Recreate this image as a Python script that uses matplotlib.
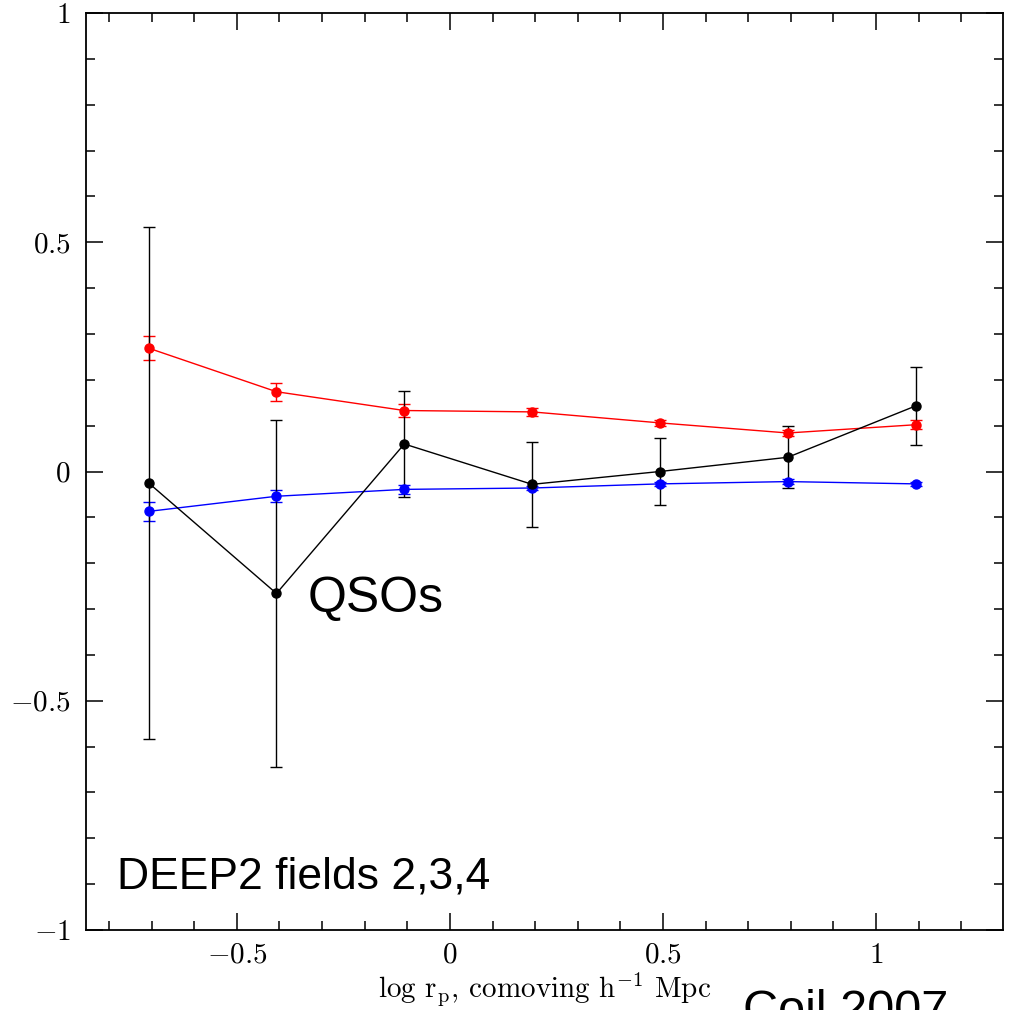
import numpy as np
import matplotlib
matplotlib.use("Agg")
import matplotlib.pyplot as plt
from matplotlib.ticker import MultipleLocator, FuncFormatter

# datos
log_rp = [-0.707, -0.407, -0.107, 0.193, 0.493, 0.793, 1.093]

red_y   = [0.269, 0.174, 0.133, 0.130, 0.106, 0.084, 0.102]
red_err = [0.026, 0.020, 0.014, 0.008, 0.007, 0.007, 0.010]

blue_y   = [-0.087, -0.054, -0.039, -0.036, -0.027, -0.022, -0.027]
blue_err = [0.020, 0.013, 0.009, 0.005, 0.005, 0.006, 0.005]

qso_y   = [-0.025, -0.266, 0.060, -0.028, 0.000, 0.031, 0.143]
qso_err = [0.559, 0.378, 0.116, 0.093, 0.072, 0.068, 0.086]

plt.rcParams["mathtext.fontset"] = "cm"
plt.rcParams["font.family"] = ["cmr10", "DejaVu Serif"]
plt.rcParams["axes.formatter.use_mathtext"] = True

W, H = 1018, 1010
fig = plt.figure(figsize=(W/100, H/100), dpi=100)
ax = fig.add_axes([86/W, 1 - 930/H, (1003-86)/W, (930-13)/H])

kw = dict(marker="o", ms=6.5, lw=1.0, elinewidth=1.0, capsize=4.5, capthick=1.0)
ax.errorbar(log_rp, red_y, yerr=red_err, color="red", **kw)
ax.errorbar(log_rp, blue_y, yerr=blue_err, color="blue", **kw)
ax.errorbar(log_rp, qso_y, yerr=qso_err, color="black", **kw)

ax.set_xlim(-0.854, 1.298)
ax.set_ylim(-1, 1)

ax.xaxis.set_major_locator(MultipleLocator(0.5))
ax.xaxis.set_minor_locator(MultipleLocator(0.1))
ax.yaxis.set_major_locator(MultipleLocator(0.5))
ax.yaxis.set_minor_locator(MultipleLocator(0.1))
fmt = FuncFormatter(lambda v, p: "$%g$" % round(v, 3))
ax.xaxis.set_major_formatter(fmt)
ax.yaxis.set_major_formatter(fmt)

ax.tick_params(which="both", direction="in", top=True, right=True, width=1.1)
ax.tick_params(which="major", length=12.5, pad=11, labelsize=21)
ax.tick_params(which="minor", length=6.5)
ax.tick_params(axis="x", pad=9)
for s in ax.spines.values():
    s.set_linewidth(1.3)

ax.set_xlabel(r"log r$_{\rm p}$, comoving h$^{-1}$ Mpc", fontsize=21, labelpad=1)

sans = ["Liberation Sans", "DejaVu Sans"]
fig.text(308/W, 1 - 612/H, "QSOs", family=sans, fontsize=36, va="baseline")
fig.text(117/W, 1 - 889/H, "DEEP2 fields 2,3,4", family=sans, fontsize=32, va="baseline")
fig.text(743/W, 1 - 1024/H, "Coil 2007", family=sans, fontsize=35, va="baseline")

fig.savefig("out.png", dpi=100)
